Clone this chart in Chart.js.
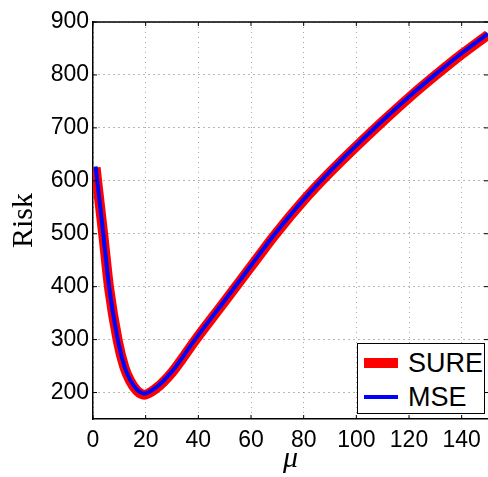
<!DOCTYPE html>
<html>
<head>
<meta charset="utf-8">
<style>
  html, body { margin: 0; padding: 0; background: #fff; }
  #wrap { position: relative; width: 488px; height: 477px; }
  #legend {
    position: absolute; left: 357px; top: 343px; width: 126px; height: 69px;
    border: 1.5px solid #000; background: #fff;
    font-family: "Liberation Sans", Arial, sans-serif; font-size: 27px; color: #000;
  }
  .item { position: absolute; left: 6px; height: 30px; display: flex; align-items: center; }
  .swatch { width: 34px; margin-right: 10px; }
</style>
</head>
<body>
<div id="wrap">
  <canvas id="c" width="488" height="477"></canvas>
  <div id="legend">
    <div class="item" style="top:4px"><span class="swatch" style="height:10px;background:#ff0000"></span><span>SURE</span></div>
    <div class="item" style="top:38px"><span class="swatch" style="height:4px;background:#0000ff"></span><span>MSE</span></div>
  </div>
</div>
<script src="https://cdn.jsdelivr.net/npm/chart.js@4"></script>
<script>
// Risk as a function of the parameter mu
const mu   = [1, 1.6, 3.9, 6.1, 9.4, 11.9, 14, 16.6, 19.5, 23.5, 30, 38.7, 50, 60, 69.1, 80, 90, 100, 110, 120, 130, 140, 150];
const mse  = [627, 600, 500, 400, 300, 250, 225, 206, 198, 208, 240, 300, 374, 440, 500, 565, 618, 667, 714, 759, 801, 841, 878];
const sure = [625, 598, 498, 398, 298, 248, 223, 204, 196, 206, 238, 298, 372, 438, 498, 563, 616, 665, 712, 757, 799, 839, 876];
const xTicks = [0, 20, 40, 60, 80, 100, 120, 140];
const yTicks = [200, 300, 400, 500, 600, 700, 800, 900];

const pts = ys => mu.map((x, i) => ({ x, y: ys[i] }));

// Top edge of the axes box plus small inward tick marks
const frame = {
  id: 'frame',
  afterDraw(chart) {
    const { ctx, chartArea: a, scales } = chart;
    ctx.save();
    ctx.strokeStyle = '#000';
    ctx.lineWidth = 1.5;
    ctx.beginPath();
    ctx.moveTo(a.left, a.top); ctx.lineTo(a.right, a.top);
    ctx.stroke();
    ctx.lineWidth = 1;
    ctx.beginPath();
    xTicks.forEach(v => {
      const px = scales.x.getPixelForValue(v);
      ctx.moveTo(px, a.bottom); ctx.lineTo(px, a.bottom - 4);
      ctx.moveTo(px, a.top); ctx.lineTo(px, a.top + 4);
    });
    yTicks.forEach(v => {
      const py = scales.y.getPixelForValue(v);
      ctx.moveTo(a.left, py); ctx.lineTo(a.left + 4, py);
      ctx.moveTo(a.right, py); ctx.lineTo(a.right - 4, py);
    });
    ctx.stroke();
    ctx.restore();
  }
};

const tickFont = { family: '"Liberation Sans", Arial, sans-serif', size: 23 };

new Chart(document.getElementById('c'), {
  type: 'line',
  data: {
    datasets: [
      { label: 'SURE', data: pts(sure), borderColor: '#ff0000', borderWidth: 10, order: 2,
        pointRadius: 0, cubicInterpolationMode: 'monotone', clip: 0, borderCapStyle: 'butt' },
      { label: 'MSE', data: pts(mse), borderColor: '#0000ff', borderWidth: 4, order: 1,
        pointRadius: 0, cubicInterpolationMode: 'monotone', clip: 0 }
    ]
  },
  options: {
    responsive: false,
    animation: false,
    events: [],
    layout: { padding: { top: 22, right: 0, bottom: 0, left: 0 } },
    plugins: { legend: { display: false }, tooltip: { enabled: false } },
    scales: {
      x: {
        type: 'linear', min: 0, max: 150,
        afterBuildTicks: s => { s.ticks = xTicks.map(v => ({ value: v })); },
        afterFit: s => { s.height = 58; s.paddingLeft = 0; s.paddingRight = 0; },
        ticks: { color: '#000', font: tickFont, padding: 8, maxRotation: 0 },
        grid: { color: '#a8a8a8', lineWidth: 1, drawTicks: false },
        border: { display: true, color: '#000', width: 1.5, dash: [1, 4] },
        title: { display: true, text: 'μ', color: '#000', padding: 0,
          font: { family: '"Liberation Serif", "DejaVu Serif", serif', size: 30, style: 'italic' } }
      },
      y: {
        type: 'linear', min: 150, max: 900,
        afterBuildTicks: s => { s.ticks = yTicks.map(v => ({ value: v })); },
        afterFit: s => { s.width = 93; s.paddingTop = 0; s.paddingBottom = 0; },
        ticks: { color: '#000', font: tickFont, padding: 4 },
        grid: { color: '#707070', lineWidth: 1, drawTicks: false },
        border: { display: true, color: '#000', width: 1.5, dash: [1, 4] },
        title: { display: true, text: 'Risk', color: '#000', padding: { top: 6, bottom: 0 },
          font: { family: '"Liberation Serif", "DejaVu Serif", serif', size: 30 } }
      }
    }
  },
  plugins: [frame]
});
</script>
</body>
</html>
